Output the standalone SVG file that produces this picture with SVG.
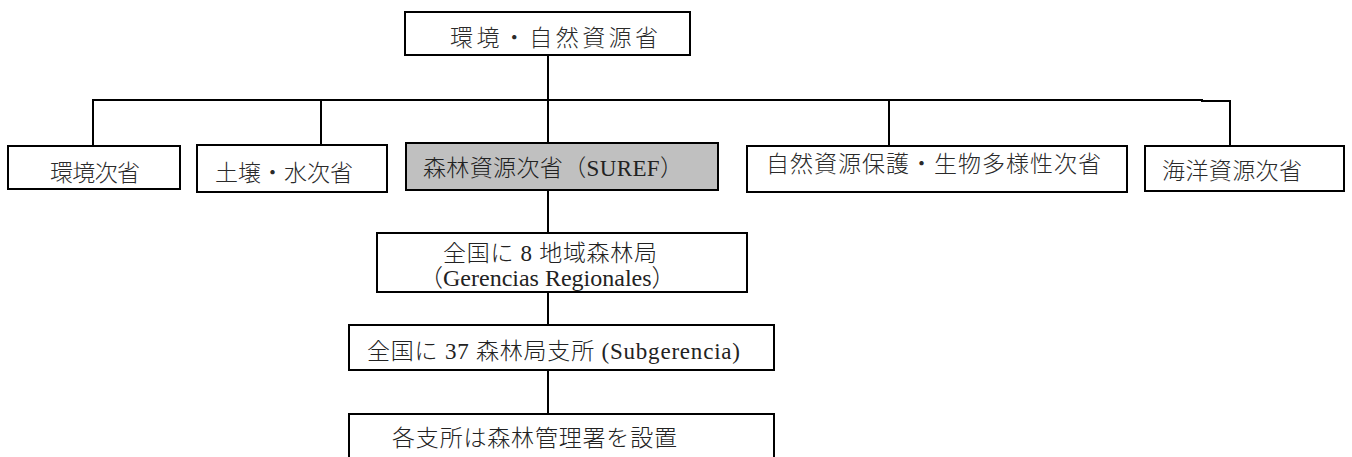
<svg xmlns="http://www.w3.org/2000/svg" width="1352" height="457" viewBox="0 0 1352 457">
<style>
.box{fill:#fff;stroke:#000;stroke-width:2}
.gray{fill:#c0c0c0;stroke:#000;stroke-width:2}
.ln{fill:none;stroke:#000;stroke-width:2}
.s{font-family:"Noto Sans CJK JP","Liberation Sans",sans-serif;font-size:23px;font-weight:300;fill:#2a2a2a}
.m{font-family:"Liberation Serif","Noto Sans CJK JP",serif;font-size:23px;font-weight:300;fill:#222}
</style>
<rect width="1352" height="457" fill="#fff"/>
<g id="connectors">
<path class="ln" d="M548 55V143M93 146V100H1202V101H1230V146M321 100V145M889 100V146M548 190V233M548 292V325M548 370V414"/>
</g>
<g id="n-top"><rect class="box" x="405" y="12" width="285" height="43"/><text class="s" x="450" y="46" textLength="208" lengthAdjust="spacing">環境・自然資源省</text></g>
<g id="n-env"><rect class="box" x="8" y="146" width="172" height="43"/><text class="s" x="50" y="181" textLength="90" lengthAdjust="spacing">環境次省</text></g>
<g id="n-soil"><rect class="box" x="197" y="145" width="190" height="47"/><text class="s" x="215" y="181" textLength="138" lengthAdjust="spacing">土壌・水次省</text></g>
<g id="n-suref"><rect class="gray" x="406" y="143" width="312" height="47"/><text class="m" x="423" y="176" textLength="260" lengthAdjust="spacing">森林資源次省（SUREF）</text></g>
<g id="n-bio"><rect class="box" x="747" y="146" width="380" height="46"/><text class="s" x="766" y="172" textLength="335" lengthAdjust="spacing">自然資源保護・生物多様性次省</text></g>
<g id="n-sea"><rect class="box" x="1145" y="146" width="199" height="45"/><text class="s" x="1162" y="179" textLength="140" lengthAdjust="spacing">海洋資源次省</text></g>
<g id="n-regional"><rect class="box" x="377" y="233" width="370" height="59"/><text class="m" x="443" y="261" textLength="214" lengthAdjust="spacing">全国に 8 地域森林局</text><text class="m" x="419" y="286" style="font-size:24px">（Gerencias Regionales）</text></g>
<g id="n-sub"><rect class="box" x="349" y="325" width="425" height="45"/><text class="m" x="367" y="359" textLength="373" lengthAdjust="spacing">全国に 37 森林局支所 (Subgerencia)</text></g>
<g id="n-office"><rect class="box" x="349" y="414" width="425" height="60"/><text class="m" x="392" y="446" textLength="285" lengthAdjust="spacing">各支所は森林管理署を設置</text></g>
</svg>
